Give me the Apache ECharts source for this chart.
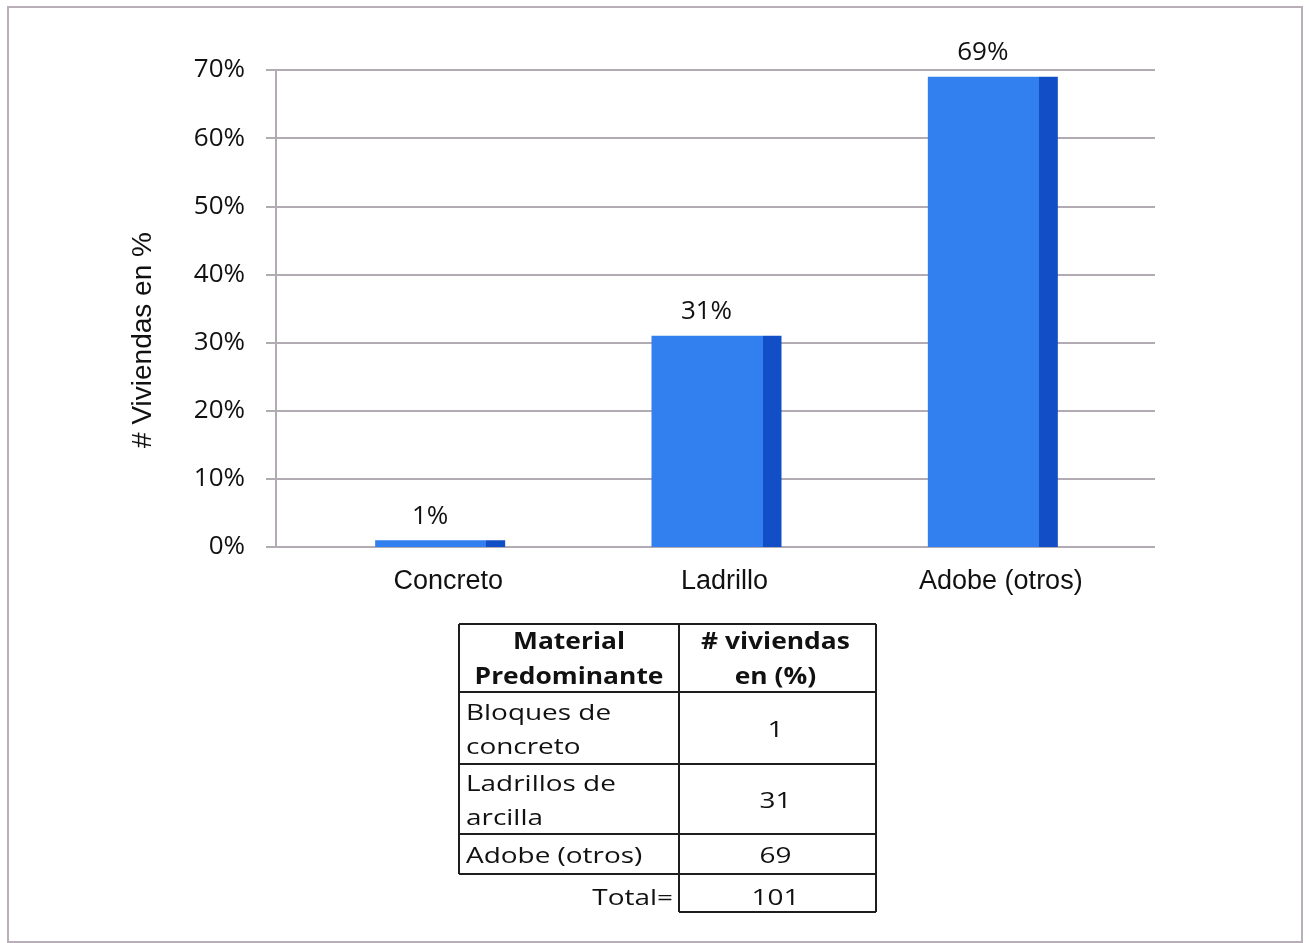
<!DOCTYPE html>
<html>
<head>
<meta charset="utf-8">
<script src="https://cdn.jsdelivr.net/npm/echarts@6/dist/echarts.min.js"></script>
<style>
  html, body { margin: 0; padding: 0; background: #ffffff; }
  #chart { width: 1309px; height: 943px; }
</style>
</head>
<body>
<div id="chart"></div>
<script>
// Material predominante de las viviendas
const categories = ['Concreto', 'Ladrillo', 'Adobe (otros)'];
const values = [1, 31, 69];
const yTicks = [0, 10, 20, 30, 40, 50, 60, 70];

// Tabla de apoyo
const tableHeader = [['Material', 'Predominante'], ['# viviendas', 'en (%)']];
const tableMaterials = [['Bloques de', 'concreto'], ['Ladrillos de', 'arcilla'], ['Adobe (otros)']];
const tableValues = ['1', '31', '69'];
const tableTotalLabel = 'Total=';
const tableTotal = '101';

const chart = echarts.init(document.getElementById('chart'), null, { renderer: 'canvas' });

const gridColor = '#b3abb3';
const tickFont = 'Open Sans';
const catFont = 'Liberation Sans';

// Front face plus darker right-hand side face
const barFill = new echarts.graphic.LinearGradient(0, 0, 1, 0, [
  { offset: 0, color: '#327ff0' },
  { offset: 0.855, color: '#327ff0' },
  { offset: 0.855, color: '#124fc6' },
  { offset: 1, color: '#124fc6' }
]);

// Table geometry
const colX = [459, 679, 876];
const rowY = [624, 692, 764, 834, 874, 912];
const lineStyle = { stroke: '#1e1e1e', lineWidth: 2 };
const tableGraphics = [];
function hLine(x1, x2, y) {
  tableGraphics.push({ type: 'line', shape: { x1, y1: y, x2, y2: y }, style: lineStyle });
}
function vLine(x, y1, y2) {
  tableGraphics.push({ type: 'line', shape: { x1: x, y1, x2: x, y2 }, style: lineStyle });
}
function txt(text, x, y, align, opts, scaleX) {
  tableGraphics.push({
    type: 'text', x, y, scaleX: scaleX || 1.33,
    style: Object.assign({
      text, align, verticalAlign: 'middle',
      fontFamily: tickFont, fontSize: 21, fill: '#111'
    }, opts || {})
  });
}
hLine(colX[0], colX[2], rowY[0]);
hLine(colX[0], colX[2], rowY[1]);
hLine(colX[0], colX[2], rowY[2]);
hLine(colX[0], colX[2], rowY[3]);
hLine(colX[0], colX[2], rowY[4]);
hLine(colX[1], colX[2], rowY[5]);
vLine(colX[0], rowY[0], rowY[4]);
vLine(colX[1], rowY[0], rowY[5]);
vLine(colX[2], rowY[0], rowY[5]);

const c1 = (colX[0] + colX[1]) / 2;
const c2 = (colX[1] + colX[2]) / 2 - 2;
tableHeader.forEach((lines, i) => {
  const cx = i === 0 ? c1 : c2;
  txt(lines[0], cx, 642, 'center', { fontWeight: 'bold', fontSize: 24 }, 1.1);
  txt(lines[1], cx, 677, 'center', { fontWeight: 'bold', fontSize: 24 }, 1.1);
});
tableMaterials.forEach((lines, i) => {
  const top = rowY[i + 1], bottom = rowY[i + 2];
  const mid = (top + bottom) / 2 + 3;
  if (lines.length === 2) {
    txt(lines[0], 466, mid - 17, 'left');
    txt(lines[1], 466, mid + 17, 'left');
  } else {
    txt(lines[0], 466, mid, 'left');
  }
  txt(tableValues[i], c2, mid, 'center');
});
txt(tableTotalLabel, 673, 899, 'right');
txt(tableTotal, c2, 899, 'center');

const option = {
  backgroundColor: '#ffffff',
  animation: false,
  grid: [
    { left: 276, top: 70, width: 879, height: 477 },
    { left: 302, top: 70, width: 829, height: 477 }
  ],
  xAxis: [
    { gridIndex: 0, type: 'value', show: false, min: 0, max: 1 },
    {
      gridIndex: 1, type: 'category', data: categories,
      axisLine: { show: false }, axisTick: { show: false },
      axisLabel: { color: '#111', fontFamily: catFont, fontSize: 27, margin: 21, padding: [0, 0, 0, 16] }
    }
  ],
  yAxis: [
    {
      gridIndex: 0, type: 'value', min: 0, max: 70, interval: 10,
      axisLine: { show: true, lineStyle: { color: gridColor, width: 2 } },
      axisTick: { show: true, length: 10, lineStyle: { color: gridColor, width: 2 } },
      splitLine: { show: true, lineStyle: { color: gridColor, width: 2 } },
      axisLabel: {
        color: '#111', fontFamily: tickFont, fontSize: 26, margin: 31,
        formatter: v => yTicks.includes(v) ? v + '%' : ''
      }
    },
    { gridIndex: 1, type: 'value', min: 0, max: 70, interval: 10, show: false }
  ],
  series: [{
    type: 'bar',
    xAxisIndex: 1, yAxisIndex: 1,
    data: values,
    barWidth: 130,
    itemStyle: { color: barFill },
    label: {
      show: true, position: 'top', distance: 11, offset: [-10, 0],
      formatter: p => p.value + '%',
      color: '#111', fontFamily: tickFont, fontSize: 26
    }
  }],
  graphic: [
    {
      type: 'rect', shape: { x: 8, y: 7, width: 1294, height: 935 },
      style: { fill: 'none', stroke: '#b8afb8', lineWidth: 2 }, silent: true
    },
    {
      type: 'text', x: 143, y: 340, rotation: Math.PI / 2,
      style: {
        text: '# Viviendas en %', align: 'center', verticalAlign: 'middle',
        fontFamily: catFont, fontSize: 28, fill: '#111'
      }
    }
  ].concat(tableGraphics)
};

chart.setOption(option);
</script>
</body>
</html>
